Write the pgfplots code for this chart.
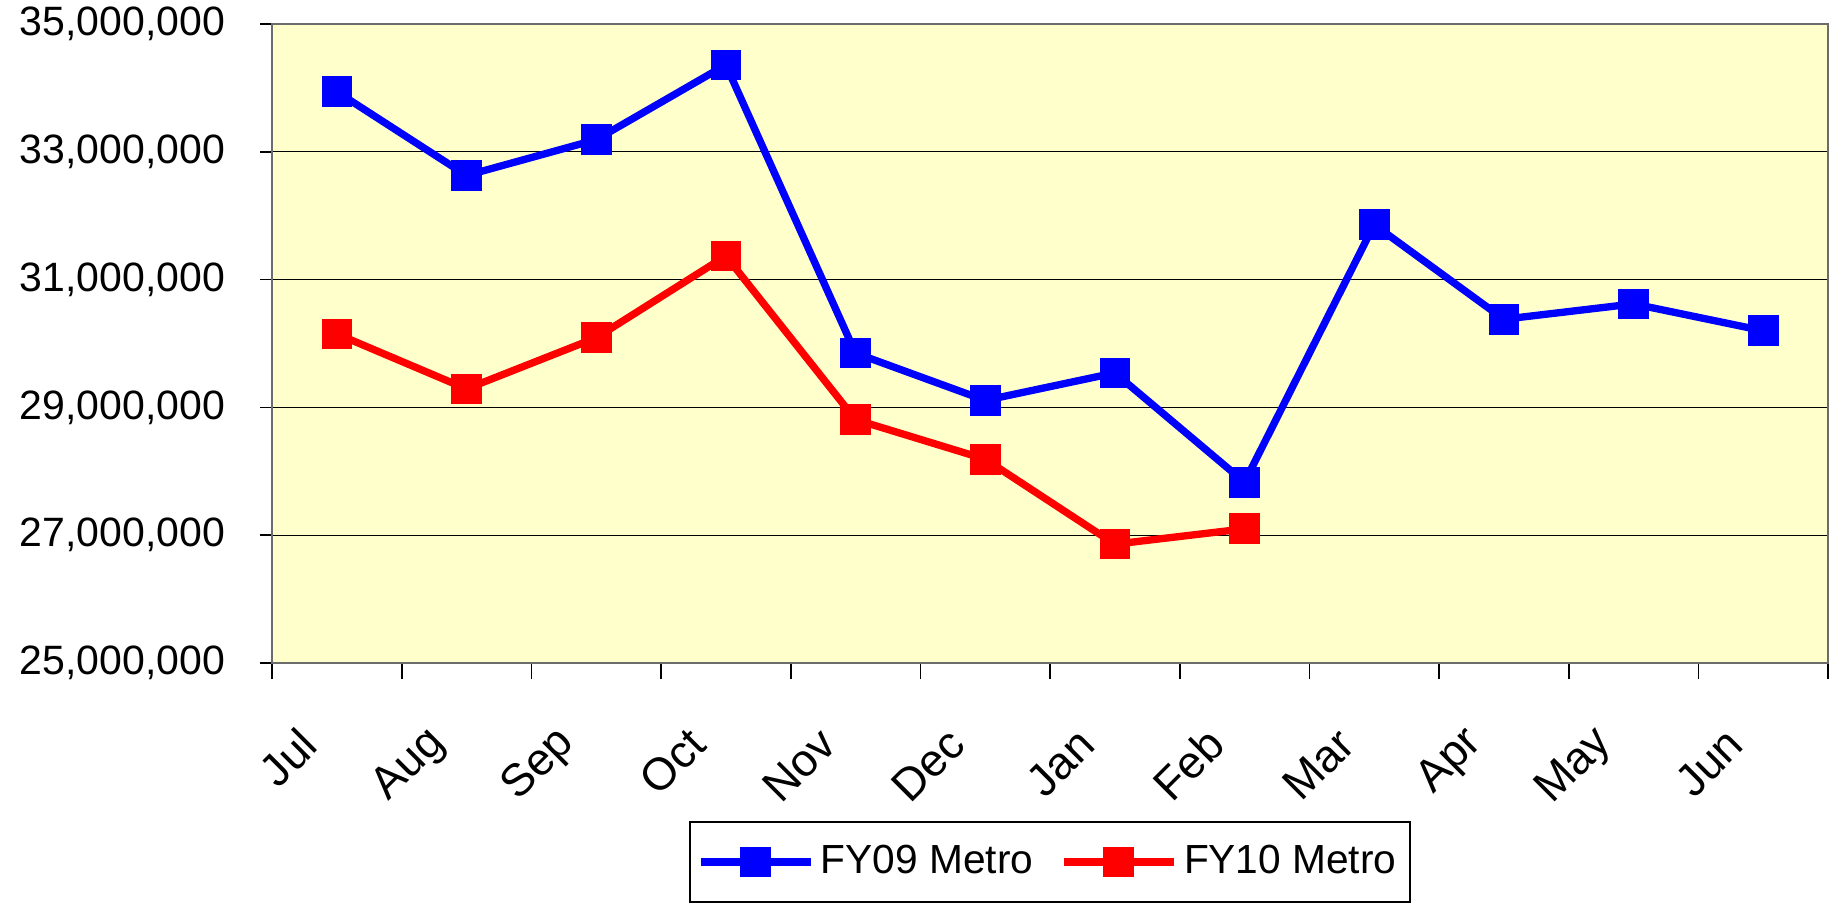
\documentclass[border=0pt]{standalone}
\usepackage{fontspec}
\setmainfont{Liberation Sans}
\usepackage{pgfplots}
\pgfplotsset{compat=1.18}
\definecolor{plotbg}{RGB}{255,255,204}
\definecolor{fyblue}{RGB}{0,0,255}
\definecolor{fyred}{RGB}{255,0,0}
\begin{document}
\begin{tikzpicture}
\begin{axis}[
  name=ax, at={(0,0)}, anchor=south west,
  scale only axis, width=466.8pt, height=191.7pt,
  xmin=0, xmax=12, ymin=25000000, ymax=35000000,
  axis background/.style={fill=plotbg},
  axis line style={draw=gray!85!black, line width=0.8pt},
  xtick={0.5,1.5,...,11.5},
  xticklabels={Jul,Aug,Sep,Oct,Nov,Dec,Jan,Feb,Mar,Apr,May,Jun},
  minor xtick={0,1,...,12},
  ytick={25000000,27000000,...,35000000},
  tick align=outside, xtick pos=bottom, ytick pos=left,
  major tick length=3.6pt, minor tick length=4.8pt,
  major x tick style={draw=none},
  minor x tick style={draw=black, line width=0.5pt},
  major y tick style={draw=black, line width=0.5pt},
  ymajorgrids, major grid style={draw=black, line width=0.4pt},
  scaled y ticks=false,
  /pgf/number format/.cd, fixed, 1000 sep={,}, assume math mode=true,
  /pgfplots/.cd,
  tick label style={font=\fontsize{12.3}{14}\selectfont},
  yticklabel style={xshift=-7pt},
  xticklabel style={font=\fontsize{13.6}{15}\selectfont, xshift=-6pt, yshift=-16pt, rotate=45, anchor=east},
  legend style={at={(0.5,-0.247)}, anchor=north, draw=black, line width=0.6pt,
    legend columns=2, font=\fontsize{12.2}{14}\selectfont,
    inner xsep=2pt, inner ysep=5pt,
    /tikz/every even column/.append style={column sep=6pt}},
  legend image code/.code={\draw[#1, mark repeat=2, mark phase=2] plot coordinates {(0pt,0pt) (16.5pt,0pt) (33pt,0pt)};},
  every axis plot/.append style={line width=2.2pt, mark=square*, mark size=3.5pt, mark options={solid}},
]
\addplot[color=fyblue] coordinates {
(0.5,33940000) (1.5,32630000) (2.5,33190000) (3.5,34360000) (4.5,29850000) (5.5,29110000)
(6.5,29540000) (7.5,27830000) (8.5,31860000) (9.5,30380000) (10.5,30620000) (11.5,30200000)};
\addlegendentry{FY09 Metro}
\addplot[color=fyred] coordinates {
(0.5,30150000) (1.5,29290000) (2.5,30090000) (3.5,31370000) (4.5,28810000) (5.5,28190000)
(6.5,26860000) (7.5,27100000)};
\addlegendentry{FY10 Metro}
\end{axis}
\pgfresetboundingbox
\path[use as bounding box] (-81.6pt,-72.3pt) rectangle (468.6pt,198.9pt);
\end{tikzpicture}
\end{document}
